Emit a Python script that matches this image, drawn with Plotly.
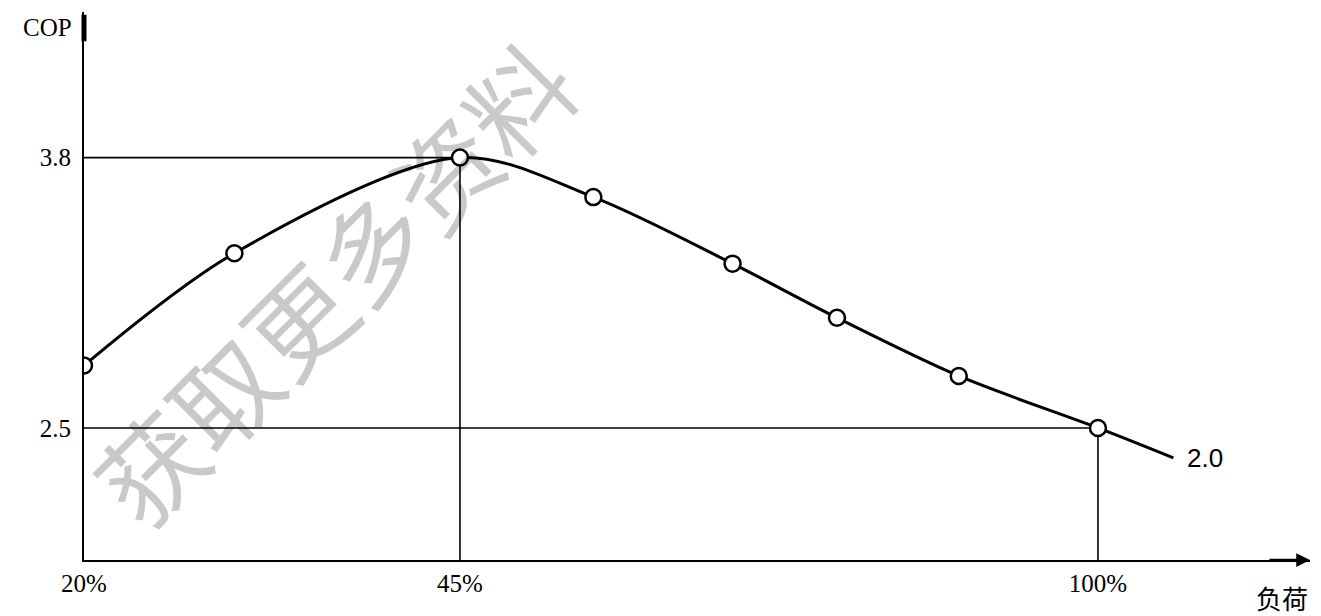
import numpy as np
import plotly.graph_objects as go

# Part-load performance of the unit: COP against load fraction
LOAD = [20, 30, 45, 56.5, 68.5, 77.5, 88, 100]          # % of rated load
COP = [2.80, 3.34, 3.80, 3.61, 3.29, 3.03, 2.75, 2.50]
END_LOAD = 106.5                                         # overload end of the curve
END_COP = 2.0

X_TICKS = [20, 45, 100]
X_TICK_TEXT = ["20%", "45%", "100%"]
Y_TICKS = [3.8, 2.5]
Y_TICK_TEXT = ["3.8", "2.5"]

# Schematic (piecewise-linear) scales used by the drawing
X_SCALE_IN = [20, 45, 100, 120]
X_SCALE_OUT = [0.0, 1.0, 2.697, 3.314]
Y_SCALE_IN = [1.0, 2.0, 2.5, 3.8, 5.0]
Y_SCALE_OUT = [2.068, 2.356, 2.5, 3.8, 5.0]


def sx(v):
    return np.interp(v, X_SCALE_IN, X_SCALE_OUT)


def sy(v):
    return np.interp(v, Y_SCALE_IN, Y_SCALE_OUT)


peak_i = int(np.argmax(COP))
rated_i = LOAD.index(100)

fig = go.Figure()

guide = dict(color="black", width=1.6)
# reference lines to the peak and the rated point
fig.add_trace(go.Scatter(x=sx([LOAD[0], LOAD[peak_i]]), y=sy([COP[peak_i]] * 2),
                         mode="lines", line=guide, hoverinfo="skip"))
fig.add_trace(go.Scatter(x=sx([LOAD[peak_i]] * 2), y=[1.865, sy(COP[peak_i])],
                         mode="lines", line=guide, hoverinfo="skip"))
fig.add_trace(go.Scatter(x=sx([LOAD[0], LOAD[rated_i]]), y=sy([COP[rated_i]] * 2),
                         mode="lines", line=guide, hoverinfo="skip"))
fig.add_trace(go.Scatter(x=sx([LOAD[rated_i]] * 2), y=[1.865, sy(COP[rated_i])],
                         mode="lines", line=guide, hoverinfo="skip"))

# smooth COP curve
fig.add_trace(go.Scatter(x=sx(LOAD + [END_LOAD]), y=sy(COP + [END_COP]),
                         mode="lines", line=dict(color="black", width=3,
                                                 shape="spline", smoothing=0.9),
                         hoverinfo="skip"))
# measured points
fig.add_trace(go.Scatter(x=sx(LOAD), y=sy(COP), mode="markers",
                         marker=dict(symbol="circle", size=16, color="white",
                                     line=dict(color="black", width=2.5)),
                         hoverinfo="skip"))

serif = "Liberation Serif"

fig.update_layout(
    width=1321, height=616,
    margin=dict(l=84, r=11, t=12, b=56),
    paper_bgcolor="white", plot_bgcolor="white",
    showlegend=False,
    xaxis=dict(range=[0, 3.261], showgrid=False, zeroline=False,
               showline=True, linecolor="black", linewidth=2,
               tickvals=sx(X_TICKS), ticktext=X_TICK_TEXT, ticks="",
               tickfont=dict(family=serif, size=25, color="black")),
    yaxis=dict(range=[1.865, 4.50], showgrid=False, zeroline=False,
               showline=True, linecolor="black", linewidth=2,
               tickvals=sy(Y_TICKS), ticktext=Y_TICK_TEXT, ticks="",
               ticklabelstandoff=6,
               tickfont=dict(family=serif, size=25, color="black")),
    annotations=[
        # watermark
        dict(text="获取更多资料", xref="paper", yref="paper", x=0.202, y=0.509,
             xanchor="center", yanchor="middle",
             showarrow=False, textangle=-45,
             font=dict(family="Noto Sans CJK SC", size=104,
                       color="rgba(0,0,0,0.21)")),
        # axis titles
        dict(text="COP", xref="paper", yref="paper", x=-0.008, y=0.972,
             xanchor="right", yanchor="middle", showarrow=False,
             font=dict(family=serif, size=25, color="black")),
        dict(text="负荷", xref="paper", yref="paper", x=1.0, y=-0.068,
             xanchor="right", yanchor="middle", showarrow=False,
             font=dict(family="Noto Sans CJK SC", size=26, color="black")),
        dict(text="2.0", x=sx(END_LOAD), y=sy(END_COP), xanchor="left",
             xshift=12, showarrow=False,
             font=dict(family="Liberation Sans", size=26, color="black")),
        # axis arrows
        dict(x=1.0, y=0, xref="paper", yref="paper", ax=-42, ay=0,
             showarrow=True, arrowhead=2, arrowsize=1.1, arrowwidth=2.5,
             arrowcolor="black", text=""),
        dict(x=0, y=0.995, xref="paper", yref="paper", ax=0, ay=28,
             showarrow=True, arrowhead=0, arrowwidth=5,
             arrowcolor="black", text=""),
    ],
)

fig.write_html("out.html")
